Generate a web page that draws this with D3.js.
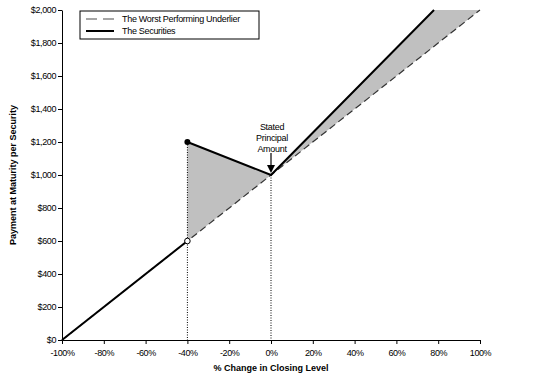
<!DOCTYPE html>
<html lang="en">
<head>
  <meta charset="UTF-8">
  <title>Payment at Maturity</title>
  <script src="https://d3js.org/d3.v7.min.js"></script>
  <style>
    body { margin: 0; background: #fff; font-family: 'Liberation Sans', Arial, sans-serif; }
    .tick text { font-size: 9px; letter-spacing: -0.4px; fill: #000; }
    .axis path, .axis line { stroke: #000; }
  </style>
</head>
<body>
  <svg width="544" height="375"></svg>
  <script>
    // x ticks (% change) and y ticks ($ payment)
    const xTicks = [-100, -80, -60, -40, -20, 0, 20, 40, 60, 80, 100];
    const yTicks = [0, 200, 400, 600, 800, 1000, 1200, 1400, 1600, 1800, 2000];

    // worst performing underlier: payment = 1000 * (1 + change)
    const underlierX = [-100, 100];
    const underlierY = [0, 2000];

    // the securities, in two pieces (jump at the -40% barrier)
    const lowerX = [-100, -40];
    const lowerY = [0, 600];
    const upperX = [-40, 0, 78];
    const upperY = [1200, 1000, 2000];

    const barrier = -40;
    const principal = 1000;

    const svg = d3.select("svg");
    const margin = { top: 10, right: 64, bottom: 35, left: 62 };
    const width = 544 - margin.left - margin.right;
    const height = 375 - margin.top - margin.bottom;
    const g = svg.append("g").attr("transform", `translate(${margin.left},${margin.top})`);

    const x = d3.scaleLinear().domain([-100, 100]).range([0, width]);
    const y = d3.scaleLinear().domain([0, 2000]).range([height, 0]);

    const line = d3.line().x(d => x(d[0])).y(d => y(d[1]));
    const zip = (xs, ys) => xs.map((v, i) => [v, ys[i]]);
    const under = v => principal * (1 + v / 100);

    // shaded gaps between securities and underlier
    const shade1 = [[barrier, upperY[0]], [0, upperY[1]], [barrier, under(barrier)]];
    const shade2 = [[0, upperY[1]], [upperX[2], upperY[2]], [100, underlierY[1]]];
    [shade1, shade2].forEach(s => {
      g.append("path").attr("d", line(s) + "Z").attr("fill", "#c0c0c0").attr("stroke", "none");
    });

    // dotted drop lines
    g.append("line")
      .attr("x1", x(barrier)).attr("x2", x(barrier))
      .attr("y1", y(upperY[0])).attr("y2", height)
      .attr("stroke", "#000").attr("stroke-width", 1).attr("stroke-dasharray", "1,1.5");
    g.append("line")
      .attr("x1", x(0)).attr("x2", x(0))
      .attr("y1", y(principal)).attr("y2", height)
      .attr("stroke", "#000").attr("stroke-width", 1).attr("stroke-dasharray", "1,1.5");

    // axes
    g.append("g").attr("class", "axis")
      .attr("transform", `translate(0,${height})`)
      .call(d3.axisBottom(x).tickValues(xTicks).tickSize(4).tickSizeOuter(0).tickFormat(d => d + "%"))
      .call(a => a.selectAll(".tick text").attr("dy", "0.95em"));
    g.append("g").attr("class", "axis")
      .call(d3.axisLeft(y).tickValues(yTicks).tickSize(4).tickSizeOuter(0).tickFormat(d => "$" + d3.format(",")(d)))
      .call(a => a.selectAll(".tick text").attr("x", -6));

    // underlier dashed
    g.append("path").datum(zip(underlierX, underlierY))
      .attr("d", line).attr("fill", "none")
      .attr("stroke", "#333").attr("stroke-width", 1.2).attr("stroke-dasharray", "7,4");

    // securities
    [zip(lowerX, lowerY), zip(upperX, upperY)].forEach(seg => {
      g.append("path").datum(seg).attr("d", line).attr("fill", "none")
        .attr("stroke", "#000").attr("stroke-width", 2);
    });

    g.append("circle").attr("cx", x(barrier)).attr("cy", y(upperY[0])).attr("r", 3).attr("fill", "#000");
    g.append("circle").attr("cx", x(barrier)).attr("cy", y(lowerY[1])).attr("r", 2.8)
      .attr("fill", "#fff").attr("stroke", "#000").attr("stroke-width", 1);

    // annotation
    const ann = g.append("text").attr("text-anchor", "middle").attr("font-size", 9).attr("letter-spacing", -0.3);
    ["Stated", "Principal", "Amount"].forEach((t, i) => {
      ann.append("tspan").attr("x", x(0) + 1).attr("y", 120 + i * 11).text(t);
    });
    g.append("line").attr("x1", x(0)).attr("x2", x(0)).attr("y1", 143).attr("y2", 155)
      .attr("stroke", "#000").attr("stroke-width", 1.2);
    g.append("path")
      .attr("d", `M${x(0) - 4},155 L${x(0) + 4},155 L${x(0)},${y(principal) - 2} Z`)
      .attr("fill", "#000");

    // axis titles
    svg.append("text").attr("x", margin.left + x(0)).attr("y", 371)
      .attr("text-anchor", "middle").attr("font-size", 9).attr("font-weight", "bold")
      .text("% Change in Closing Level");
    svg.append("text").attr("transform", `translate(16,${margin.top + height / 2}) rotate(-90)`)
      .attr("text-anchor", "middle").attr("font-size", 9).attr("font-weight", "bold")
      .text("Payment at Maturity per Security");

    // legend
    const lg = svg.append("g").attr("transform", "translate(80,11)");
    lg.append("rect").attr("width", 179).attr("height", 28).attr("fill", "#fff").attr("stroke", "#000");
    lg.append("line").attr("x1", 6).attr("x2", 34).attr("y1", 8).attr("y2", 8)
      .attr("stroke", "#888").attr("stroke-width", 1.5).attr("stroke-dasharray", "11,6");
    lg.append("line").attr("x1", 6).attr("x2", 34).attr("y1", 20).attr("y2", 20)
      .attr("stroke", "#000").attr("stroke-width", 2);
    lg.append("text").attr("x", 42).attr("y", 11).attr("font-size", 9).attr("letter-spacing", -0.3)
      .text("The Worst Performing Underlier");
    lg.append("text").attr("x", 42).attr("y", 23).attr("font-size", 9).attr("letter-spacing", -0.3)
      .text("The Securities");
  </script>
</body>
</html>
